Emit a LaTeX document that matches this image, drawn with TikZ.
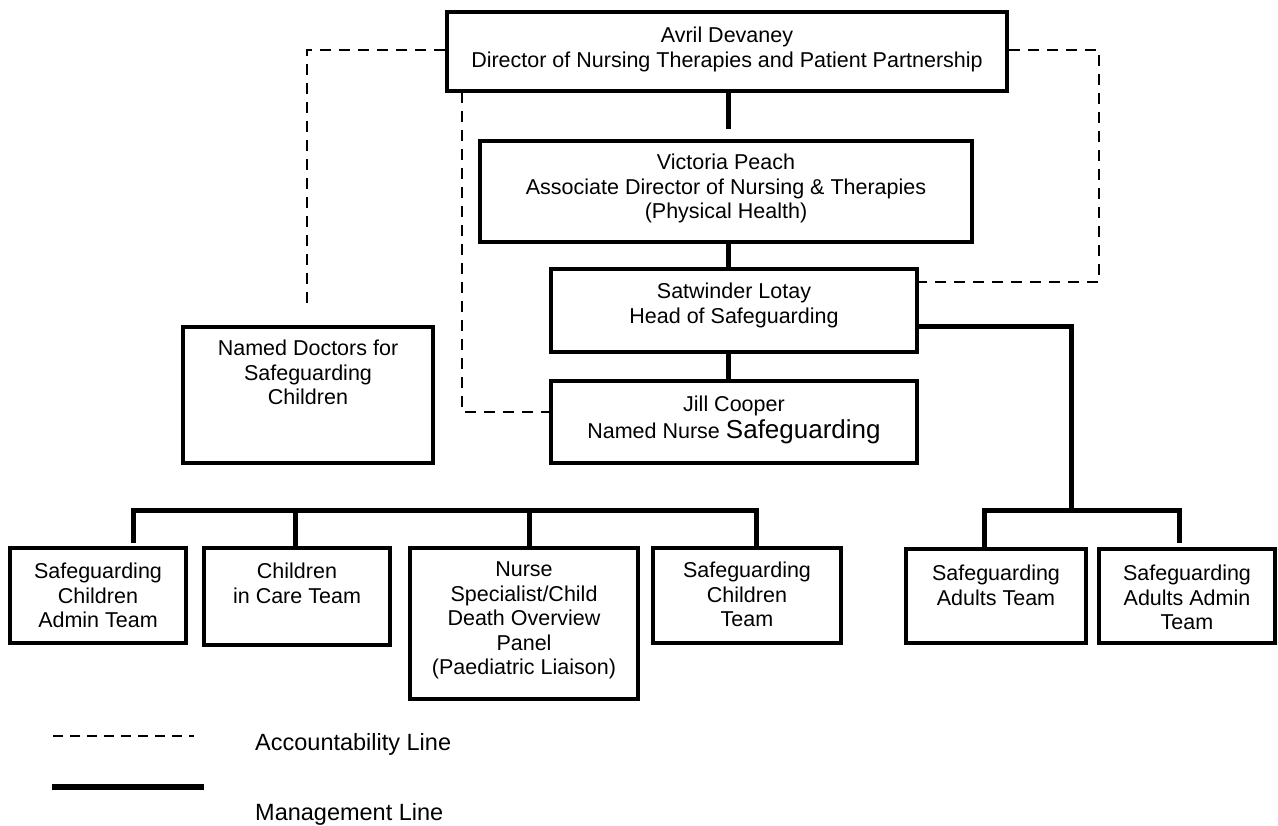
\documentclass[tikz,border=0pt]{standalone}
\usepackage{fontspec}
\setmainfont{Liberation Sans}
\begin{document}
\begin{tikzpicture}[x=1pt,y=-1pt,
  box/.style={draw, line width=4pt, inner sep=0pt},
  txt/.style={inner sep=0pt, align=center, anchor=north, font=\fontsize{21.5}{24.5}\selectfont},
  mgmt/.style={line width=5pt},
  acc/.style={line width=2.5pt, dash pattern=on 11pt off 8pt},
  legtxt/.style={inner sep=0pt, anchor=base west, font=\fontsize{23.5}{26}\selectfont}
]
\useasboundingbox (0,0) rectangle (1278,826);

% boxes
\node[box, minimum width=560, minimum height=79]  (avril)     at (727,51.5)  {};
\node[box, minimum width=492, minimum height=101] (victoria)  at (726,191.5) {};
\node[box, minimum width=366, minimum height=83]  (satwinder) at (734,310.5) {};
\node[box, minimum width=366, minimum height=82]  (jill)      at (734,422)   {};
\node[box, minimum width=250, minimum height=136] (doctors)   at (308,395)   {};
\node[box, minimum width=176, minimum height=95]  (sca)       at (98,595.5)  {};
\node[box, minimum width=186, minimum height=97]  (cic)       at (297,596.5) {};
\node[box, minimum width=228, minimum height=151] (nurse)     at (524,623.5) {};
\node[box, minimum width=188, minimum height=95]  (sct)       at (747,595.5) {};
\node[box, minimum width=180, minimum height=94]  (sat)       at (996,596)   {};
\node[box, minimum width=176, minimum height=94]  (saat)      at (1187,596)  {};

% texts
\node[txt] (avril-t) at ([yshift=-17pt]avril.north) {Avril Devaney\\Director of Nursing Therapies and Patient Partnership};
\node[txt] (victoria-t) at ([yshift=-15pt]victoria.north) {Victoria Peach\\Associate Director of Nursing \& Therapies\\(Physical Health)};
\node[txt] (satwinder-t) at ([yshift=-16pt]satwinder.north) {Satwinder Lotay\\Head of Safeguarding};
\node[txt] (jill-t) at ([yshift=-17pt]jill.north) {Jill Cooper\\[2.5pt]Named Nurse {\fontsize{26}{28}\selectfont Safeguarding}};
\node[txt] (doctors-t) at ([yshift=-15pt]doctors.north) {Named Doctors for\\Safeguarding\\Children};
\node[txt] (sca-t) at ([yshift=-17pt]sca.north) {Safeguarding\\Children\\Admin Team};
\node[txt] (cic-t) at ([yshift=-17pt]cic.north) {Children\\in Care Team};
\node[txt] (nurse-t) at ([yshift=-16pt]nurse.north) {Nurse\\Specialist/Child\\Death Overview\\Panel\\(Paediatric Liaison)};
\node[txt] (sct-t) at ([yshift=-16pt]sct.north) {Safeguarding\\Children\\Team};
\node[txt] (sat-t) at ([yshift=-18pt]sat.north) {Safeguarding\\Adults Team};
\node[txt] (saat-t) at ([yshift=-18pt]saat.north) {Safeguarding\\Adults Admin\\Team};

% management lines
\coordinate (avdrop) at (728,129);
\draw[mgmt] (avril.south -| avdrop) -- (avdrop);
\draw[mgmt] (victoria.south -| avdrop) -- (satwinder.north -| avdrop);
\draw[mgmt] (satwinder.south -| avdrop) -- (jill.north -| avdrop);

\coordinate (ra) at (1071,327);
\coordinate (rb) at (1071,510);
\draw[mgmt] (satwinder.east |- ra) -- (ra) -- (rb);
\coordinate (al) at (984,510);
\coordinate (ar) at (1179,510);
\coordinate (arend) at (1179,543);
\draw[mgmt] (al |- sat.north) -- (al) -- (ar) -- (arend);

\coordinate (cl) at (133,510);
\coordinate (cr) at (756,510);
\coordinate (cldrop) at (133,543);
\coordinate (cm2) at (295,510);
\coordinate (cm3) at (529,510);
\draw[mgmt] (cldrop) -- (cl) -- (cr) -- (cr |- sct.north);
\draw[mgmt] (cm2) -- (cm2 |- cic.north);
\draw[mgmt] (cm3) -- (cm3 |- nurse.north);

% accountability lines
\coordinate (dl1) at (307,50);
\coordinate (dl2) at (307,311);
\draw[acc] (avril.west |- dl1) -- (dl1) -- (dl2);
\coordinate (dm0) at (462,92);
\coordinate (dm1) at (462,412);
\draw[acc] (dm0) -- (dm1) -- (jill.west |- dm1);
\coordinate (dr1) at (1099,50);
\coordinate (dr2) at (1099,282);
\draw[acc] (avril.east |- dr1) -- (dr1) -- (dr2) -- (satwinder.east |- dr2);

% legend
\coordinate (l1a) at (53,736);
\coordinate (l1b) at (194,736);
\draw[line width=1.8pt, dash pattern=on 10pt off 7pt] (l1a) -- (l1b);
\coordinate (l2a) at (52,787);
\coordinate (l2b) at (204,787);
\draw[line width=6pt] (l2a) -- (l2b);
\node[legtxt] (accl) at (255,750) {Accountability Line};
\node[legtxt] (mgl) at (255,820) {Management Line};
\end{tikzpicture}
\end{document}
